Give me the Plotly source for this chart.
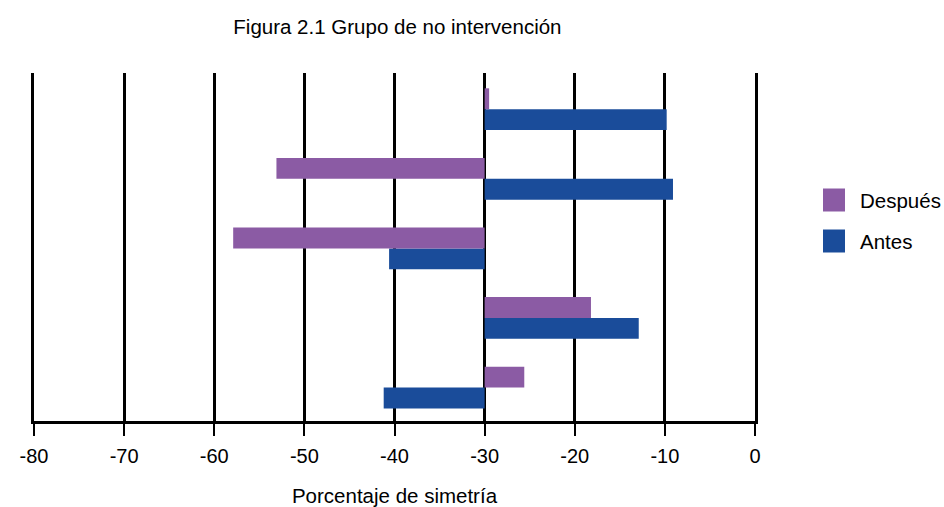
import plotly.graph_objects as go

# Five participants (top to bottom); bars start from the -30 reference line
participants = ["P1", "P2", "P3", "P4", "P5"]
antes = [-9.8, -9.1, -40.6, -12.9, -41.2]
despues = [-29.5, -53.1, -57.9, -18.2, -25.6]
baseline = -30
x_ticks = [-80, -70, -60, -50, -40, -30, -20, -10, 0]

purple = "#8B5BA4"
blue = "#1A4C9A"
font_family = "Liberation Sans, Arial, sans-serif"

fig = go.Figure()
fig.add_trace(go.Bar(
    y=participants, x=[v - baseline for v in antes], base=baseline,
    orientation="h", name="Antes", marker=dict(color=blue, line=dict(width=0)),
    showlegend=False,
))
fig.add_trace(go.Bar(
    y=participants, x=[v - baseline for v in despues], base=baseline,
    orientation="h", name="Después", marker=dict(color=purple, line=dict(width=0)),
    showlegend=False,
))

fig.update_layout(
    width=944, height=507,
    margin=dict(l=34, r=189, t=73, b=86, autoexpand=False),
    paper_bgcolor="white", plot_bgcolor="white",
    barmode="group", bargap=0.40, bargroupgap=0,
    font=dict(family=font_family, size=20, color="black"),
    title=dict(text="Figura 2.1 Grupo de no intervención", x=0.421, xanchor="center",
               y=0.947, yanchor="middle", font=dict(size=20.5)),
)
fig.update_xaxes(
    range=[-80, 0], tickvals=x_ticks, ticktext=[str(t) for t in x_ticks],
    showgrid=True, gridcolor="black", gridwidth=2.5,
    showline=True, linecolor="black", linewidth=2.5,
    ticks="outside", ticklen=12, tickwidth=2, tickcolor="black",
    ticklabelstandoff=3, automargin=False,
    zeroline=False, tickfont=dict(size=20),
    title=dict(text="Porcentaje de simetría", font=dict(size=20.5), standoff=24),
)
fig.update_yaxes(
    categoryorder="array", categoryarray=participants[::-1],
    range=[-0.48, 4.52],
    showticklabels=False, showgrid=False, zeroline=False, ticks="",
    showline=True, mirror=True, linecolor="black", linewidth=2.5, automargin=False,
)

# Legend: colour squares with labels to the right of the plot
legend_items = [("Después", purple, 200), ("Antes", blue, 241)]
for label, color, yc in legend_items:
    fig.add_shape(type="rect", xref="paper", yref="paper",
                  x0=(823 - 34) / 721, x1=(845 - 34) / 721,
                  y0=(421 - (yc + 11.5)) / 348, y1=(421 - (yc - 11.5)) / 348,
                  fillcolor=color, line=dict(width=0))
    fig.add_annotation(text=label, xref="paper", yref="paper",
                       x=(858 - 34) / 721, y=(421 - yc) / 348,
                       xanchor="left", yanchor="middle", showarrow=False,
                       font=dict(size=20.5))

fig.write_html("out.html")
